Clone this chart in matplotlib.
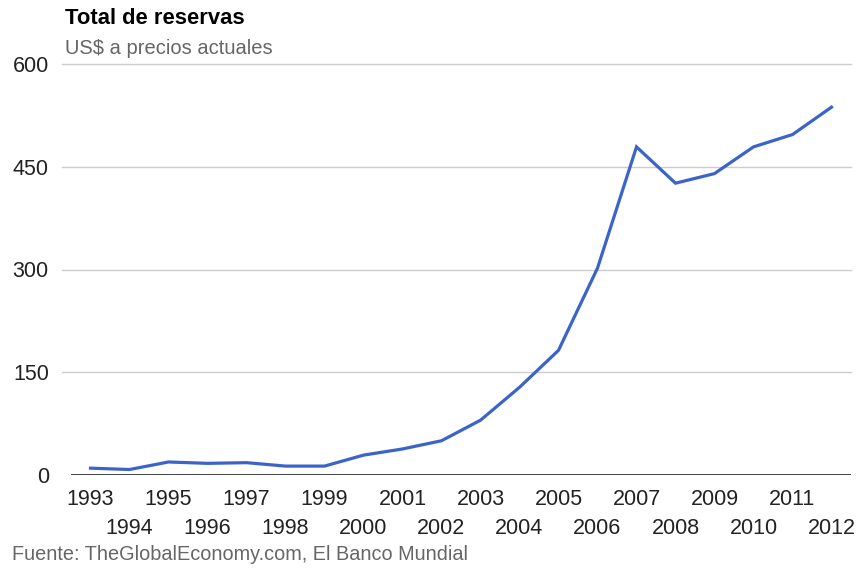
import matplotlib.pyplot as plt

years = list(range(1993, 2013))
reserves = [10, 8, 19, 17, 18, 13, 13, 29, 38, 50, 80, 128, 182, 302, 479, 426, 440, 479, 497, 537]
y_ticks = [0, 150, 300, 450, 600]

plt.rcParams["font.family"] = ["Liberation Sans", "DejaVu Sans"]

fig = plt.figure(figsize=(8.59, 5.69), dpi=100)
# axes box in pixels: x 71..851, y 64..475 (from top)
W, H = 859, 569
ax = fig.add_axes([71 / W, 1 - 475 / H, (851 - 71) / W, (475 - 64) / H])

ax.plot(years, reserves, color="#3c64c8", linewidth=2.3, solid_joinstyle="miter", zorder=3)

ax.set_xlim(1992.5, 2012.5)
ax.set_ylim(0, 600)
ax.set_yticks(y_ticks)
ax.set_yticklabels([str(v) for v in y_ticks])
for v in y_ticks[1:]:
    ax.axhline(v, color="#cccccc", linewidth=1, xmin=-0.012, clip_on=False, zorder=1)
ax.axhline(0, color="#333333", linewidth=1.3, zorder=2)

for s in ax.spines.values():
    s.set_visible(False)

# odd years on the first row, even years on the second row
odd = [y for y in years if y % 2 == 1]
even = [y for y in years if y % 2 == 0]
ax.set_xticks(odd)
ax.set_xticklabels([str(y) for y in odd])
ax.set_xticks(even, minor=True)
ax.set_xticklabels([str(y) for y in even], minor=True)

ax.tick_params(axis="both", which="both", length=0, labelsize=15.5, colors="#222222")
ax.tick_params(axis="y", pad=16)
ax.tick_params(axis="x", which="major", pad=10)
ax.tick_params(axis="x", which="minor", pad=31)

fig.text(65 / W, 1 - 18 / H, "Total de reservas", fontsize=15.8, fontweight="bold",
         color="#000000", va="center", ha="left")
fig.text(65 / W, 1 - 48 / H, "US$ a precios actuales", fontsize=14.5,
         color="#666666", va="center", ha="left")
fig.text(12 / W, 1 - 555 / H, "Fuente: TheGlobalEconomy.com, El Banco Mundial", fontsize=14.3,
         color="#666666", va="center", ha="left")

fig.savefig("out.png", dpi=100)
